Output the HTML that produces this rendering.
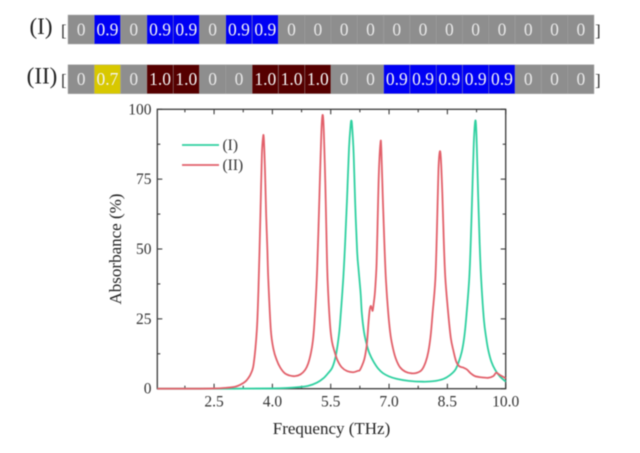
<!DOCTYPE html>
<html lang="en">
<head>
<meta charset="utf-8">
<title>Absorbance spectra</title>
<style>
html,body{margin:0;padding:0;background:#fff;}
body{width:640px;height:453px;overflow:hidden;}
svg{display:block;font-family:"Liberation Serif",serif;filter:blur(0.5px);}
</style>
</head>
<body>
<svg id="figure" width="640" height="453" viewBox="0 0 640 453" xmlns="http://www.w3.org/2000/svg"></svg>
<script>
const rowOneValues = ['0','0.9','0','0.9','0.9','0','0.9','0.9','0','0','0','0','0','0','0','0','0','0','0','0'];
const rowTwoValues = ['0','0.7','0','1.0','1.0','0','0','1.0','1.0','1.0','0','0','0.9','0.9','0.9','0.9','0.9','0','0','0'];

const xTickLabels = [2.5, 4.0, 5.5, 7.0, 8.5, 10.0];
const xMinorTicks = [1.75, 3.25, 4.75, 6.25, 7.75, 9.25];
const yTickLabels = [0, 25, 50, 75, 100];
const yMinorTicks = [12.5, 37.5, 62.5, 87.5];

const seriesOneFreq = [1.04,3,4,4.41,4.7,4.92,5.15,5.31,5.43,5.53,5.6,5.65,5.7,5.74,5.82,5.87,5.92,5.97,6.01,6.03,6.05,6.09,6.13,6.18,6.22,6.27,6.3,6.36,6.43,6.5,6.6,6.72,6.85,7,7.2,7.5,7.88,8.15,8.4,8.56,8.7,8.79,8.87,8.93,8.98,9.06,9.1,9.14,9.18,9.22,9.25,9.29,9.33,9.37,9.44,9.5,9.55,9.63,9.73,9.85,10];
const seriesOneAbs = [0,0,0.1,0.3,0.6,1,2.2,3.7,5.5,7.3,10,13.2,18,23.4,38.9,52,68,86,94,96,94,84,66,49,42,34,27,20,15.6,12.5,9.7,7.2,5.5,4.4,3.5,2.8,2.5,2.7,3.5,4.8,6.7,9.5,13.2,18,24.6,38.9,52,70,88,96,90,70,52,39,24.6,18,13.9,9.7,6.7,4.4,2.5];

const seriesTwoFreq = [1.04,1.5,2,2.5,2.8,3.04,3.2,3.3,3.38,3.45,3.52,3.6,3.64,3.67,3.7,3.73,3.76,3.78,3.81,3.84,3.87,3.895,3.96,4.03,4.11,4.2,4.32,4.45,4.58,4.72,4.84,4.92,4.99,5.04,5.08,5.14,5.18,5.22,5.26,5.29,5.32,5.36,5.39,5.42,5.48,5.53,5.6,5.68,5.78,5.92,6.08,6.2,6.25,6.34,6.38,6.43,6.47,6.5,6.53,6.56,6.58,6.61,6.64,6.68,6.71,6.74,6.78,6.8,6.84,6.88,6.92,6.98,7.04,7.11,7.18,7.28,7.42,7.58,7.72,7.84,7.94,8.01,8.07,8.12,8.19,8.23,8.27,8.3,8.33,8.37,8.41,8.45,8.53,8.59,8.65,8.72,8.8,8.9,9,9.1,9.21,9.35,9.55,9.68,9.75,9.8,9.85,9.98,10];
const seriesTwoAbs = [0,0,0,0.1,0.3,0.7,1.6,2.5,3.8,5.5,9,21,35,50,67,84,90,89.5,78,62,50,39,21,14,10.3,7.6,5.5,4.7,4.5,5.1,6.7,9,12.7,17,23.5,38.9,55,74,92,98,93,74,55,39,23.4,17,13.2,10,7.7,6.3,5.9,6.4,6.7,9.5,11.5,16,23.4,28,29.6,28.5,28,31,35,45,62,78,88,86,68,52,38.9,27,19,13.9,10.5,7.7,6.1,5.5,5.7,6.7,9.5,13.2,19,27,39,56,78,84.5,83,70,52,39,25.8,18,13.9,10,8.1,7.6,6.9,5.5,4.5,4.1,3.9,4.5,5.7,5.4,4.9,3.9,3.7];

const plotLeft = 157.3, plotRight = 505.7, plotTop = 109.3, plotBottom = 388.7;
const xMin = 1.04, xMax = 10, yMin = 0, yMax = 100;
function xScale(v){ return plotLeft + (v - xMin) / (xMax - xMin) * (plotRight - plotLeft); }
function yScale(v){ return plotBottom - (v - yMin) / (yMax - yMin) * (plotBottom - plotTop); }

const svg = document.getElementById('figure');
const NS = 'http://www.w3.org/2000/svg';
function make(tag, props, parent){
  const el = document.createElementNS(NS, tag);
  for (const k in props) el.setAttribute(k, props[k]);
  (parent || svg).appendChild(el);
  return el;
}

function drawRow(values, top, rowLabel, labelX){
  const cellW = 26.3, cellH = 29, left = 68;
  const colors = {'0':'#8e8e8e','0.9':'#0000f4','1.0':'#560000','0.7':'#d8c800'};
  const label = make('text', {x: labelX, y: top + 19, 'font-size': 23, fill: '#222', 'text-anchor': 'middle'});
  label.textContent = rowLabel;
  
  
  const open = make('text', {x: 61, y: top + 21, 'font-size': 17, fill: '#333'});
  open.textContent = '[';
  
  
  values.forEach(function(val, i){
    const rect = make('rect', {x: left + i * cellW, y: top, width: cellW, height: cellH, fill: colors[val], stroke: '#a4a4a4', 'stroke-width': 0.4});
    
    
    const txt = make('text', {x: left + (i + 0.5) * cellW, y: top + 20.5, 'font-size': 17.5, fill: val === '0' ? '#e8e8e8' : '#f4f4f4', 'text-anchor': 'middle'});
    txt.textContent = val;
    
    
  });
  const close = make('text', {x: 595, y: top + 21, 'font-size': 17, fill: '#333'});
  close.textContent = ']';
  
  
}
drawRow(rowOneValues, 15, '(I)', 41);
drawRow(rowTwoValues, 64.7, '(II)', 42);

const frame = make('rect', {x: plotLeft, y: plotTop, width: plotRight - plotLeft, height: plotBottom - plotTop, fill: 'none', stroke: '#3a3a3a', 'stroke-width': 1.3});



function tick(x1, y1, x2, y2, name){
  const t = make('line', {x1: x1, y1: y1, x2: x2, y2: y2, stroke: '#3a3a3a', 'stroke-width': 1.1});
  
  
}
xTickLabels.forEach(function(v){
  const x = xScale(v);
  tick(x, plotBottom, x, plotBottom - 5, 'x-major-tick');
  tick(x, plotTop, x, plotTop + 5, 'x-major-tick-top');
  const t = make('text', {x: x, y: 406.5, 'font-size': 15.5, fill: '#333', 'text-anchor': 'middle'});
  t.textContent = v.toFixed(1);
  
  
});
xMinorTicks.forEach(function(v){
  const x = xScale(v);
  tick(x, plotBottom, x, plotBottom - 3, 'x-minor-tick');
  tick(x, plotTop, x, plotTop + 3, 'x-minor-tick-top');
});
yTickLabels.forEach(function(v){
  const y = yScale(v);
  tick(plotLeft, y, plotLeft + 5, y, 'y-major-tick');
  tick(plotRight, y, plotRight - 5, y, 'y-major-tick-right');
  const t = make('text', {x: 151.5, y: y + 5, 'font-size': 15.5, fill: '#333', 'text-anchor': 'end'});
  t.textContent = String(v);
  
  
});
yMinorTicks.forEach(function(v){
  const y = yScale(v);
  tick(plotLeft, y, plotLeft + 3, y, 'y-minor-tick');
  tick(plotRight, y, plotRight - 3, y, 'y-minor-tick-right');
});

const xTitle = make('text', {x: 331.5, y: 434, 'font-size': 17, fill: '#222', 'text-anchor': 'middle'});
xTitle.textContent = 'Frequency (THz)';



const yTitle = make('text', {x: 0, y: 0, 'font-size': 17, fill: '#222', 'text-anchor': 'middle', transform: 'translate(121 249) rotate(-90)'});
yTitle.textContent = 'Absorbance (%)';



function smoothPath(freqs, vals){
  const px = freqs.map(xScale);
  const py = vals.map(yScale);
  let d = 'M' + px[0].toFixed(2) + ' ' + py[0].toFixed(2);
  for (let i = 0; i < px.length - 1; i++) {
    const a = Math.max(i - 1, 0), b = Math.min(i + 2, px.length - 1);
    const c1x = px[i] + (px[i + 1] - px[a]) / 6;
    const c1y = py[i] + (py[i + 1] - py[a]) / 6;
    const c2x = px[i + 1] - (px[b] - px[i]) / 6;
    const c2y = py[i + 1] - (py[b] - py[i]) / 6;
    d += 'C' + c1x.toFixed(2) + ' ' + Math.min(c1y, plotBottom).toFixed(2) + ' ' + c2x.toFixed(2) + ' ' + Math.min(c2y, plotBottom).toFixed(2) + ' ' + px[i + 1].toFixed(2) + ' ' + py[i + 1].toFixed(2);
  }
  return d;
}
const lineOne = make('path', {d: smoothPath(seriesOneFreq, seriesOneAbs), fill: 'none', stroke: '#2fd0a0', 'stroke-width': 1.8, 'stroke-linejoin': 'round'});


const lineTwo = make('path', {d: smoothPath(seriesTwoFreq, seriesTwoAbs), fill: 'none', stroke: '#e2606a', 'stroke-width': 1.8, 'stroke-linejoin': 'round'});



const legendOneLine = make('line', {x1: 182, y1: 145, x2: 219, y2: 145, stroke: '#2fd0a0', 'stroke-width': 1.8});


const legendOneText = make('text', {x: 222.5, y: 150, 'font-size': 15.5, fill: '#333'});
legendOneText.textContent = '(I)';


const legendTwoLine = make('line', {x1: 182, y1: 165, x2: 219, y2: 165, stroke: '#e2606a', 'stroke-width': 1.8});


const legendTwoText = make('text', {x: 222.5, y: 170, 'font-size': 15.5, fill: '#333'});
legendTwoText.textContent = '(II)';


</script>
</body>
</html>
